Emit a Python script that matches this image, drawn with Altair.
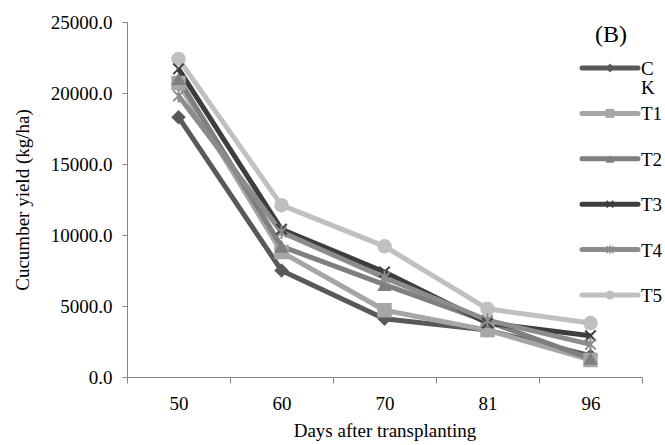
import altair as alt
import pandas as pd

days = ["50", "60", "70", "81", "96"]
series = ["CK", "T1", "T2", "T3", "T4", "T5"]
ck = [18300, 7500, 4100, 3300, 1500]
t1 = [20700, 8800, 4700, 3300, 1200]
t2 = [21000, 9200, 6500, 3900, 1300]
t3 = [21700, 10400, 7400, 3800, 2900]
t4 = [19800, 10200, 7000, 4000, 2300]
t5 = [22400, 12100, 9200, 4800, 3800]
legend_labels = ["C\nK", "T1", "T2", "T3", "T4", "T5"]
panel_label = ["(B)"]
y_ticks = [0, 5000, 10000, 15000, 20000, 25000]

colors = ["#595959", "#a6a6a6", "#7f7f7f", "#3d3d3d", "#8c8c8c", "#c0c0c0"]
x_path = "M-1,-1L1,1M1,-1L-1,1"
ast_path = "M-1,-1L1,1M1,-1L-1,1M0,-1.3L0,1.3"
shapes = ["diamond", "square", "triangle-up", x_path, ast_path, "circle"]

values = [ck, t1, t2, t3, t4, t5]
rows = []
for s, vals in zip(series, values):
    for d, v in zip(days, vals):
        rows.append({"series": s, "day": d, "yield": v})
df = pd.DataFrame(rows)

FONT = "Liberation Serif"
AX = "#868686"
FILLED = ["CK", "T1", "T2", "T5"]
STROKED = ["T3", "T4"]

color_scale = alt.Scale(domain=series, range=colors)
shape_scale = alt.Scale(domain=series, range=shapes)
col = alt.Color("series:N", scale=color_scale, legend=None)
shp = alt.Shape("series:N", scale=shape_scale, legend=None)

x_enc = alt.X(
    "day:N", sort=days, bandPosition=0.5,
    scale=alt.Scale(type="band", paddingInner=0, paddingOuter=0),
    axis=alt.Axis(title="Days after transplanting", labelAngle=0, tickBand="extent",
                  tickSize=6, labelPadding=11, titlePadding=8,
                  domainColor=AX, tickColor=AX, grid=False),
)
y_enc = alt.Y(
    "yield:Q", scale=alt.Scale(domain=[0, 25000], nice=False),
    axis=alt.Axis(title="Cucumber yield (kg/ha)", values=y_ticks, format=".1f",
                  tickSize=5, labelPadding=10, titlePadding=18,
                  domainColor=AX, tickColor=AX, grid=False),
)

base = alt.Chart(df)
lines = base.mark_line(strokeWidth=5).encode(x=x_enc, y=y_enc, color=col, detail="series:N")
pts_fill = base.transform_filter(
    alt.FieldOneOfPredicate(field="series", oneOf=FILLED)
).mark_point(filled=True, size=210, opacity=1).encode(x=x_enc, y=y_enc, color=col, shape=shp)
pts_stroke = base.transform_filter(
    alt.FieldOneOfPredicate(field="series", oneOf=STROKED)
).mark_point(filled=False, size=110, strokeWidth=2, opacity=1).encode(
    x=x_enc, y=y_enc, color=col, shape=shp)
main = alt.layer(lines, pts_fill, pts_stroke)

leg_df = pd.DataFrame({"series": series, "label": legend_labels})
leg_y = alt.Y("series:N", sort=series,
              scale=alt.Scale(type="point", domain=series, range=[46, 273], padding=0),
              axis=None)
leg_base = alt.Chart(leg_df)
leg_line = leg_base.mark_rule(strokeWidth=5, strokeCap="round").encode(
    x=alt.value(455), x2=alt.value(511), y=leg_y, color=col)
leg_pts_fill = leg_base.transform_filter(
    alt.FieldOneOfPredicate(field="series", oneOf=FILLED)
).mark_point(filled=True, size=80, opacity=1).encode(
    x=alt.value(483), y=leg_y, color=col, shape=shp)
leg_pts_stroke = leg_base.transform_filter(
    alt.FieldOneOfPredicate(field="series", oneOf=STROKED)
).mark_point(filled=False, size=45, strokeWidth=1.5, opacity=1).encode(
    x=alt.value(483), y=leg_y, color=col, shape=shp)
leg_text = leg_base.mark_text(
    align="left", baseline="alphabetic", dy=7, lineBreak="\n",
    font=FONT, fontSize=19, color="black", lineHeight=19,
).encode(x=alt.value(514), y=leg_y, text="label:N")
panel = alt.Chart(pd.DataFrame({"t": panel_label})).mark_text(
    font=FONT, fontSize=24, color="black", align="center", baseline="middle"
).encode(x=alt.value(484), y=alt.value(13), text="t:N")
legend = alt.layer(leg_line, leg_pts_fill, leg_pts_stroke, leg_text, panel)

chart = alt.layer(main, legend).resolve_scale(y="independent").properties(
    width=515, height=355,
    autosize=alt.AutoSizeParams(type="none"),
    padding={"left": 127, "top": 22, "right": 23, "bottom": 68},
).configure_view(stroke=None).configure_axis(
    labelFont=FONT, titleFont=FONT, labelFontSize=19, titleFontSize=19,
    labelColor="black", titleColor="black", titleFontWeight="normal",
)

chart.save("out.html", embed_options={"renderer": "svg", "actions": False})
